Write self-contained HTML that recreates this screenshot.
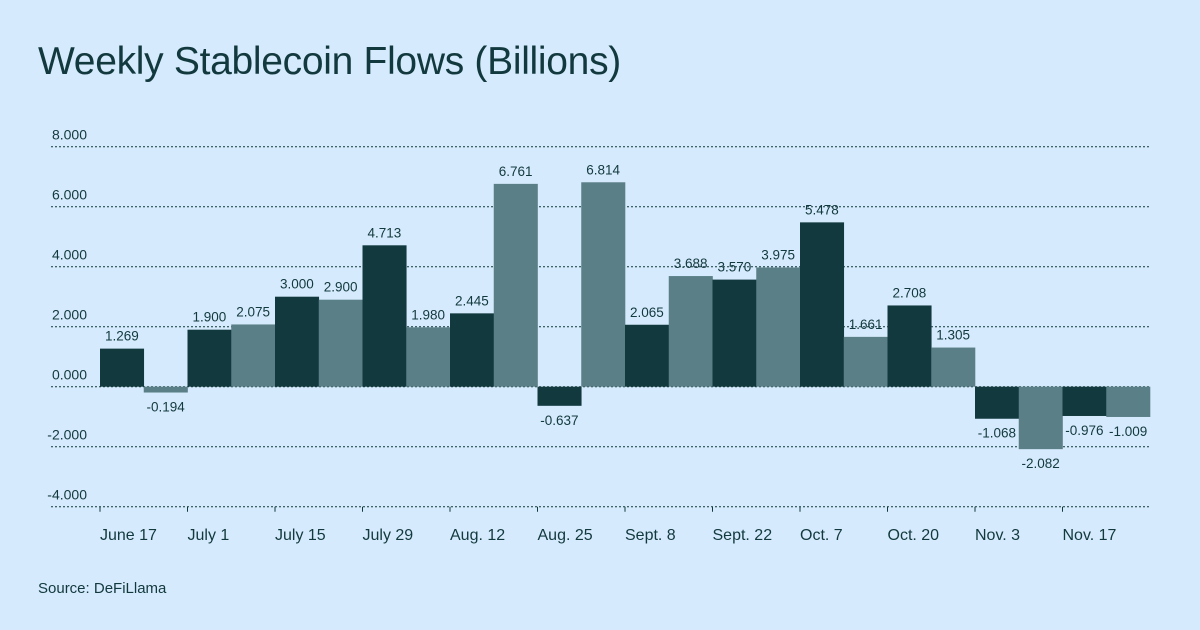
<!DOCTYPE html>
<html><head><meta charset="utf-8"><style>
body{margin:0;width:1200px;height:630px;background:#d5eafd;font-family:"Liberation Sans",sans-serif;overflow:hidden}
#title{position:absolute;left:38px;top:40px;font-size:39px;color:#12393d;letter-spacing:-0.3px}
#src{position:absolute;left:38px;top:580px;font-size:15px;color:#12393d}
svg{position:absolute;left:0;top:0}
</style></head><body>
<div id="title">Weekly Stablecoin Flows (Billions)</div>
<div id="src">Source: DeFiLlama</div>
<svg id="c" width="1200" height="630"></svg>
<script>
const values=[1.269,-0.194,1.900,2.075,3.000,2.900,4.713,1.980,2.445,6.761,-0.637,6.814,2.065,3.688,3.570,3.975,5.478,1.661,2.708,1.305,-1.068,-2.082,-0.976,-1.009];
const valueLabels=["1.269","-0.194","1.900","2.075","3.000","2.900","4.713","1.980","2.445","6.761","-0.637","6.814","2.065","3.688","3.570","3.975","5.478","1.661","2.708","1.305","-1.068","-2.082","-0.976","-1.009"];
const xLabels=["June 17","July 1","July 15","July 29","Aug. 12","Aug. 25","Sept. 8","Sept. 22","Oct. 7","Oct. 20","Nov. 3","Nov. 17"];
const yTicks=[8,6,4,2,0,-2,-4];
const yTickLabels=["8.000","6.000","4.000","2.000","0.000","-2.000","-4.000"];
const svg=document.getElementById('c');const NS="http://www.w3.org/2000/svg";
const x0=100,bw=43.75;
const y=v=>386.7-v*30;
const xb=i=>x0+i*bw;
function el(t,a,txt){const e=document.createElementNS(NS,t);for(const k in a)e.setAttribute(k,a[k]);if(txt!==undefined)e.textContent=txt;svg.appendChild(e);return e;}
yTicks.forEach((t,i)=>{
 const g=el('line',{x1:51,x2:1150,y1:y(t),y2:y(t),stroke:'#12393d','stroke-width':1,'stroke-dasharray':'2,2'});
 
 
 const l=el('text',{x:87,y:y(t)-7,'text-anchor':'end','font-size':14,fill:'#12393d'},yTickLabels[i]);
 
 
});
values.forEach((v,i)=>{
 const top=Math.min(y(v),y(0)),h=Math.abs(y(v)-y(0));
 const r=el('rect',{x:xb(i),y:top,width:bw+0.3,height:h,fill:i%2?'#5b7f86':'#12393d'});
 
 
 const ty=v>=0?y(v)-8:y(v)+19;
 const t=el('text',{x:xb(i)+bw/2,y:ty,'text-anchor':'middle','font-size':13.5,fill:'#12393d'},valueLabels[i]);
 
 
});
xLabels.forEach((s,i)=>{
 const x=xb(i*2);
 const tk=el('line',{x1:x,x2:x,y1:y(-4),y2:y(-4)+5,stroke:'#12393d','stroke-width':1});
 
 
 const t=el('text',{x:x,y:540,'font-size':16,fill:'#12393d'},s);
 
 
});
</script>
</body></html>
